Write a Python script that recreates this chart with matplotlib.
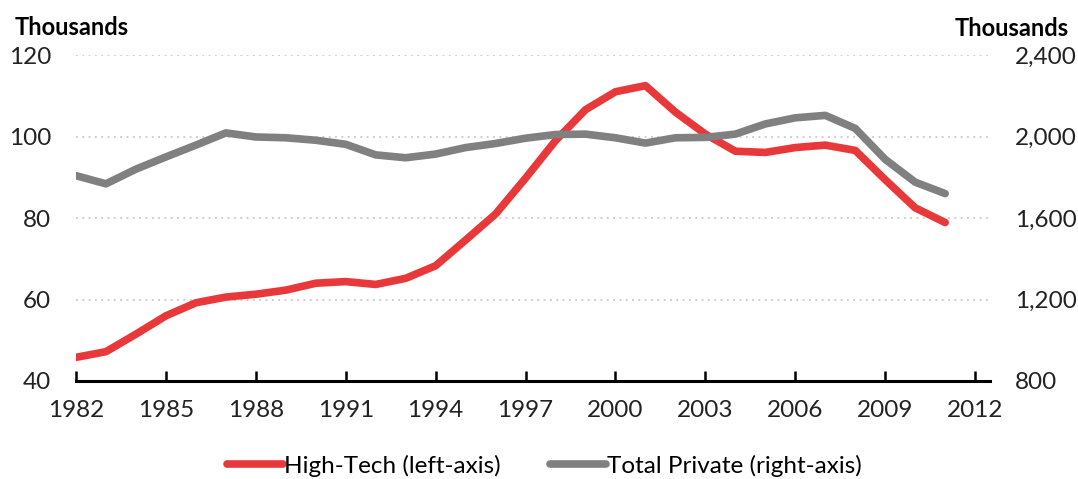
import matplotlib.pyplot as plt
from matplotlib.ticker import FuncFormatter

plt.rcParams['font.family'] = ['Lato', 'DejaVu Sans']

# data
years = list(range(1982, 2012))
high_tech = [45.8, 47.2, 51.5, 56.0, 59.2, 60.6, 61.3, 62.3, 64.0, 64.4,
             63.7, 65.2, 68.3, 74.6, 81.0, 89.8, 99.0, 106.6, 111.0, 112.5,
             106.0, 100.6, 96.4, 96.1, 97.3, 97.9, 96.6, 89.4, 82.5, 78.9]
total_private = [1808, 1768, 1840, 1900, 1958, 2018, 1998, 1994, 1982, 1962,
                 1910, 1896, 1914, 1946, 1966, 1992, 2010, 2012, 1994, 1968,
                 1994, 1996, 2012, 2062, 2092, 2104, 2040, 1888, 1776, 1720]
xticks = list(range(1982, 2013, 3))

red = '#E8383A'
gray = '#808080'

fig = plt.figure(figsize=(10.78, 4.79), dpi=100)
ax = fig.add_axes([0.0705, 0.2046, 0.9185 - 0.0705, 0.885 - 0.2046])
ax2 = ax.twinx()

l1, = ax.plot(years, high_tech, color=red, lw=5.5, solid_capstyle='round',
              solid_joinstyle='round', zorder=3, label='High-Tech (left-axis)')
l2, = ax2.plot(years, total_private, color=gray, lw=5.5, solid_capstyle='round',
               solid_joinstyle='round', zorder=3, label='Total Private (right-axis)')

ax.set_xlim(1982, 2012.5)
ax.set_ylim(40, 120)
ax2.set_ylim(800, 2400)
ax.set_yticks([40, 60, 80, 100, 120])
ax2.set_yticks([800, 1200, 1600, 2000, 2400])
ax2.yaxis.set_major_formatter(FuncFormatter(lambda v, p: f'{int(v):,}'))
ax.set_xticks(xticks)

for a in (ax, ax2):
    for s in ['top', 'left', 'right', 'bottom']:
        a.spines[s].set_visible(False)
ax.spines['bottom'].set_visible(True)
ax.spines['bottom'].set_linewidth(2.2)
ax.spines['bottom'].set_color('black')

for v in [60, 80, 100, 120]:
    ax.axhline(v, color='#c8c8c8', lw=1.3, ls=(0, (1, 2.5)), zorder=1)

ax.tick_params(axis='x', direction='in', length=7, width=1.8, pad=14,
               labelsize=17.5, colors='black', labelcolor='#222222')
ax.tick_params(axis='y', length=0, pad=18, labelsize=17.5, labelcolor='#222222')
ax2.tick_params(axis='y', length=0, pad=18, labelsize=17.5, labelcolor='#222222')

fig.text(0.014, 0.943, 'Thousands', fontsize=17, fontweight='bold', va='center', ha='left')
fig.text(0.9917, 0.94, 'Thousands', fontsize=17, fontweight='bold', va='center', ha='right')

fig.legend(handles=[l1, l2], loc='center', bbox_to_anchor=(0.505, 0.028), ncol=2,
           frameon=False, fontsize=17.5, handlelength=2.3, handletextpad=0.05,
           columnspacing=2.0)

fig.savefig('out.png', dpi=100)
